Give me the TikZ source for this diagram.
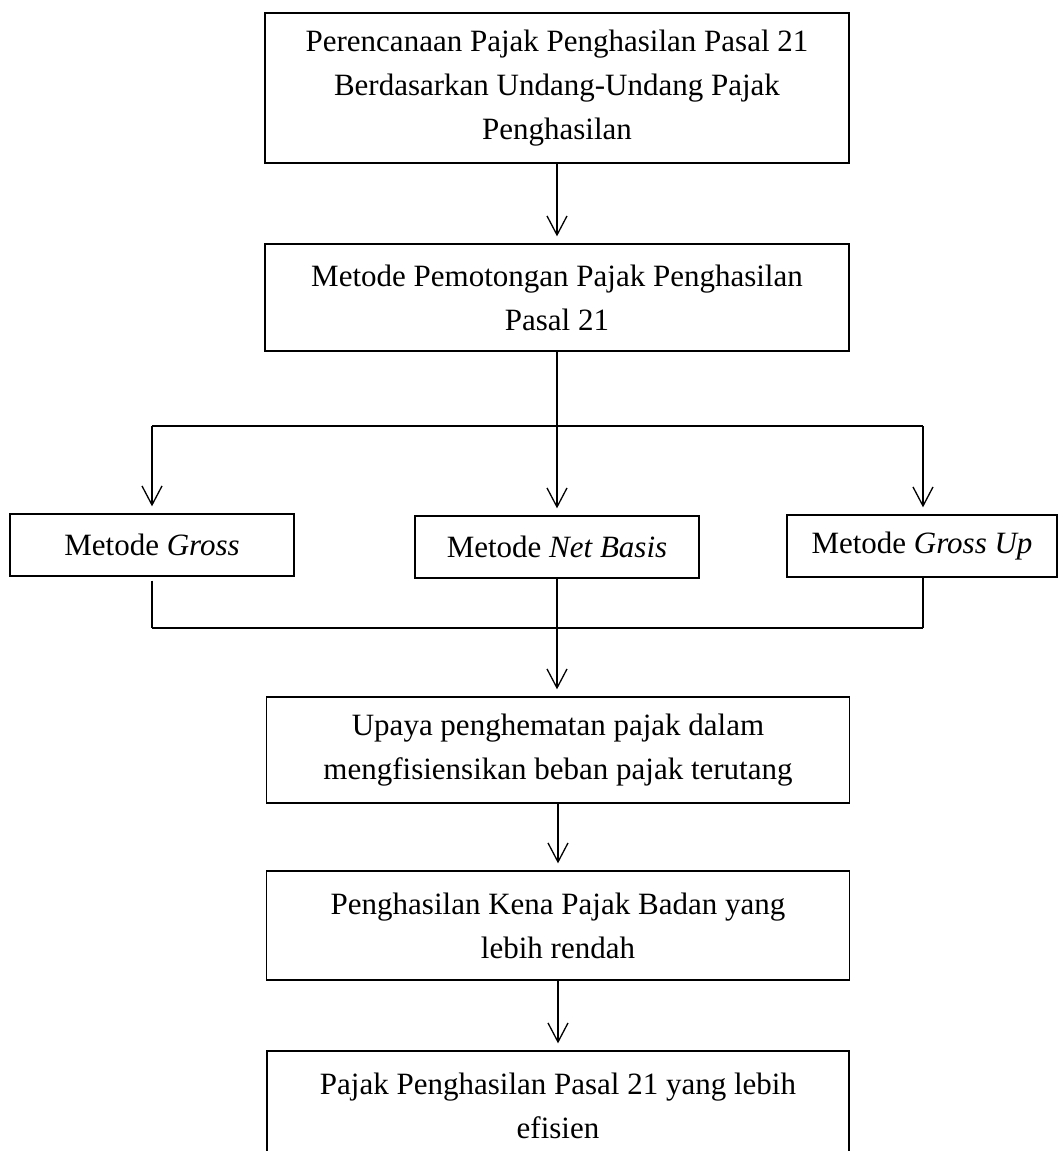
\documentclass[tikz,border=0pt]{standalone}
\usepackage{fontspec}
\setmainfont{Liberation Serif}
\usetikzlibrary{arrows.meta}
\begin{document}
\begin{tikzpicture}[x=1pt,y=-1pt,
  box/.style={draw, line width=1.3pt, inner sep=0pt, align=center, font=\fontsize{31}{44}\selectfont},
  arr/.style={line width=1.3pt, -{Straight Barb[length=19pt,width=20pt,line width=1.3pt]}, shorten >=7pt},
  ln/.style={line width=1.3pt}]
\useasboundingbox (0,0) rectangle (1059,1151);
\clip (0,0) rectangle (1059,1151);

\node[box, minimum width=584pt, minimum height=150pt] (b1) at (557,88)
  {Perencanaan Pajak Penghasilan Pasal 21\\Berdasarkan Undang-Undang Pajak\\Penghasilan};
\node[box, minimum width=584pt, minimum height=107pt] (b2) at (557,297.5)
  {Metode Pemotongan Pajak Penghasilan\\Pasal 21};
\node[box, minimum width=284pt, minimum height=62pt] (g) at (152,545)
  {Metode \textit{Gross}};
\node[box, minimum width=284pt, minimum height=62pt] (nb) at (557,547)
  {Metode \textit{Net Basis}};
\node[box, minimum width=270pt, minimum height=62pt] (gu) at (922,546)
  {Metode \textit{Gross Up}};
\node[box, minimum width=583pt, minimum height=106pt] (b4) at (558,750)
  {Upaya penghematan pajak dalam\\mengfisiensikan beban pajak terutang};
\node[box, minimum width=583pt, minimum height=109pt] (b5) at (558,925.5)
  {Penghasilan Kena Pajak Badan yang\\lebih rendah};
\node[box, minimum width=582pt, minimum height=109pt] (b6) at (558,1105.5)
  {Pajak Penghasilan Pasal 21 yang lebih\\efisien};

\coordinate (jl) at (152,426);
\coordinate (jr) at (923,426);
\coordinate (ml) at (152,628);
\coordinate (mr) at (923,628);

\draw[arr] (b1.south) -- (b1.south |- b2.north);
\draw[ln] (jl) -- (jr);
\draw[arr] (b2.south) -- (b2.south |- nb.north);
\draw[arr] (jl) -- (jl |- g.north);
\draw[arr] (jr) -- (jr |- gu.north);
\draw[ln, shorten <=4pt] (g.south) -- (ml);
\draw[ln] (gu.south -| jr) -- (mr);
\draw[ln] (ml) -- (mr);
\draw[arr] (nb.south) -- (nb.south |- b4.north);
\draw[arr] (b4.south) -- (b4.south |- b5.north);
\draw[arr] (b5.south) -- (b5.south |- b6.north);
\end{tikzpicture}
\end{document}
